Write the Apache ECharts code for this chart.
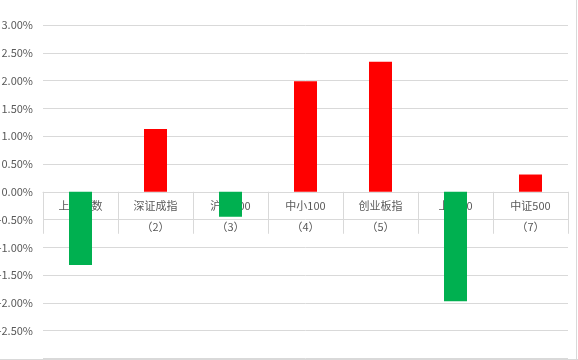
<!DOCTYPE html>
<html>
<head>
<meta charset="utf-8">
<script src="https://cdn.jsdelivr.net/npm/echarts@6/dist/echarts.min.js"></script>
<style>
html,body{margin:0;padding:0;background:#fff;}
#c{width:578px;height:360px;}
</style>
</head>
<body>
<div id="c"></div>
<script>
const categories = ['上证指数', '深证成指', '沪深300', '中小100', '创业板指', '上证50', '中证500'];
const indexLabels = ['（1）', '（2）', '（3）', '（4）', '（5）', '（6）', '（7）'];
const changePct = [-1.32, 1.13, -0.45, 1.99, 2.34, -1.97, 0.31];
const yTicks = { min: -3, max: 3, interval: 0.5 };

const H = 360, gridTop = 25, gridBottom = 1.5;
const gridH = H - gridTop - gridBottom;
// move category axis up to the zero value line
const zeroOffset = -gridH * (0 - yTicks.min) / (yTicks.max - yTicks.min);

const chart = echarts.init(document.getElementById('c'), null, { renderer: 'canvas' });
const font = '"Noto Sans CJK SC", "Noto Sans", sans-serif';
chart.setOption({
  animation: false,
  backgroundColor: '#ffffff',
  grid: { left: 43, right: 10, top: gridTop, bottom: gridBottom, containLabel: false, outerBoundsMode: 'none' },
  xAxis: {
    type: 'category',
    data: categories,
    boundaryGap: true,
    position: 'bottom',
    offset: zeroOffset,
    axisLine: { show: true, onZero: false, lineStyle: { color: '#d9d9d9', width: 1 } },
    axisTick: { show: true, length: 42, lineStyle: { color: '#d9d9d9', width: 1 } },
    splitLine: { show: false },
    axisLabel: {
      interval: 0,
      margin: 4,
      color: '#595959',
      fontFamily: font,
      fontSize: 11,
      lineHeight: 21,
      formatter: (v, i) => v + '\n' + indexLabels[i]
    }
  },
  yAxis: {
    type: 'value',
    min: yTicks.min,
    max: yTicks.max,
    interval: yTicks.interval,
    axisLine: { show: false },
    axisTick: { show: false },
    splitLine: { lineStyle: { color: '#d9d9d9', width: 1 } },
    axisLabel: {
      margin: 10,
      color: '#595959',
      fontFamily: font,
      fontSize: 11,
      formatter: v => (v === yTicks.min ? '' : v.toFixed(2) + '%')
    }
  },
  series: [{
    type: 'bar',
    barWidth: 23,
    data: changePct,
    z: 5,
    itemStyle: {
      color: p => (p.value >= 0 ? '#FF0000' : '#00B050')
    }
  }],
  graphic: [
    { type: 'line', silent: true, shape: { x1: 0, y1: 359.5, x2: 578, y2: 359.5 }, style: { stroke: '#d9d9d9', lineWidth: 1 } },
    { type: 'line', silent: true, shape: { x1: 576.5, y1: 0, x2: 576.5, y2: 360 }, style: { stroke: '#d9d9d9', lineWidth: 1 } }
  ]
});
</script>
</body>
</html>
